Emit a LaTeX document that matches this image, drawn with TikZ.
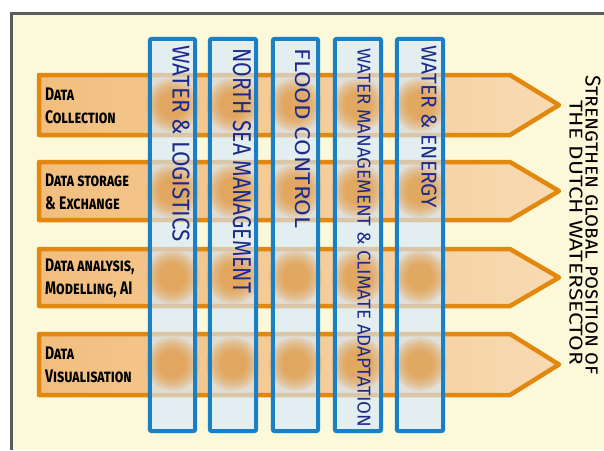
\documentclass[tikz,border=0pt]{standalone}
\usepackage{fontspec}
\usepackage{graphicx}
\setmainfont{Fira Sans}

\definecolor{paper}{HTML}{FCF8DA}
\definecolor{frame}{HTML}{5C5C5C}
\definecolor{arrowline}{HTML}{E2880F}
\definecolor{arrowfillL}{HTML}{F2BE7E}
\definecolor{arrowfillR}{HTML}{F8DAB2}
\definecolor{blobcol}{HTML}{E8902A}
\definecolor{colline}{HTML}{1A7FC4}
\definecolor{colfill}{HTML}{D6E9FA}
\definecolor{ink}{HTML}{1B2A8C}

% stretched column lettering: length, cap height, text
\newcommand\colword[3]{\resizebox{#1pt}{#2pt}{#3}}

\begin{document}
\begin{tikzpicture}[x=1pt,y=-1pt,
  arrowbody/.style={draw=arrowline, line width=4.5pt, line join=round,
    left color=arrowfillL, right color=arrowfillR},
  colbody/.style={fill=colfill, fill opacity=0.66, inner sep=0pt,
    minimum width=#1, minimum height=392pt},
  colborder/.style={draw=colline, line width=4pt, rounded corners=2pt},
  washlayer/.style={fill=blobcol, fill opacity=0.13},
  rowlabel/.style={anchor=west, align=left, inner sep=0pt, yscale=1.3,
    font=\fontsize{14}{17.7}\selectfont\bfseries\scshape},
  coltext/.style={rotate=-90, anchor=west, inner sep=0pt, text=ink},
  goaltext/.style={rotate=-90, anchor=west, inner sep=0pt}]

\useasboundingbox (0,0) rectangle (604,450);
\fill[white] (0,0) rectangle (604,450);
\fill[paper] (11,13) rectangle (604,450);
\draw[frame, line width=3pt] (11,450) -- (11,13) -- (604,13);

% the four data arrows
\foreach \t/\b in {75/135, 162/220, 249/306, 334/395}{
  \path[arrowbody] (39,\t) -- (510,\t) -- (559,{(\t+\b)/2}) -- (510,\b)
    -- (39,\b) -- cycle;
}

\node[rowlabel] (l1) at (45,106) {Data\\Collection};
\node[rowlabel] (l2) at (45,192) {Data storage\\\& Exchange};
\node[rowlabel] (l3) at (45,278) {Data analysis,\\Modelling, AI};
\node[rowlabel] (l4) at (45,365) {Data\\Visualisation};

% the five themed columns
\node[colbody=45pt]   (c1) at (172.5,235) {};
\node[colbody=46pt]   (c2) at (233,235) {};
\node[colbody=45pt]   (c3) at (295.5,235) {};
\node[colbody=46pt]   (c4) at (358,235) {};
\node[colbody=46pt]   (c5) at (420,235) {};

% soft paint washes where a column crosses an arrow
\foreach \x in {172.5,233,295.5,358,420}{
  \foreach \y in {105,191,277,364}{
    \foreach \r in {27,25,...,13}{
      \fill[washlayer] (\x,\y) circle (\r pt);
    }
  }
}

\foreach \c in {c1,c2,c3,c4,c5}{
  \draw[colborder] (\c.north west) rectangle (\c.south east);
}

\node[coltext] (t1) at (181,45) {\colword{197}{17}{WATER \& LOGISTICS}};
\node[coltext] (t2) at (242,48) {\colword{245}{18}{NORTH SEA MANAGEMENT}};
\node[coltext] (t3) at (303,48) {\colword{180}{15}{FLOOD CONTROL}};
\node[coltext] (t4) at (364,48) {\colword{379}{13}{WATER MANAGEMENT \& CLIMATE ADAPTATION}};
\node[coltext] (t5) at (429,45) {\colword{163}{15}{WATER \& ENERGY}};

% overall goal
\node[goaltext] (g1) at (593,75) {\colword{300}{15}{\scshape Strengthen global position of}};
\node[goaltext] (g2) at (576,100) {\colword{265}{13}{THE DUTCH WATERSECTOR}};

\end{tikzpicture}
\end{document}
